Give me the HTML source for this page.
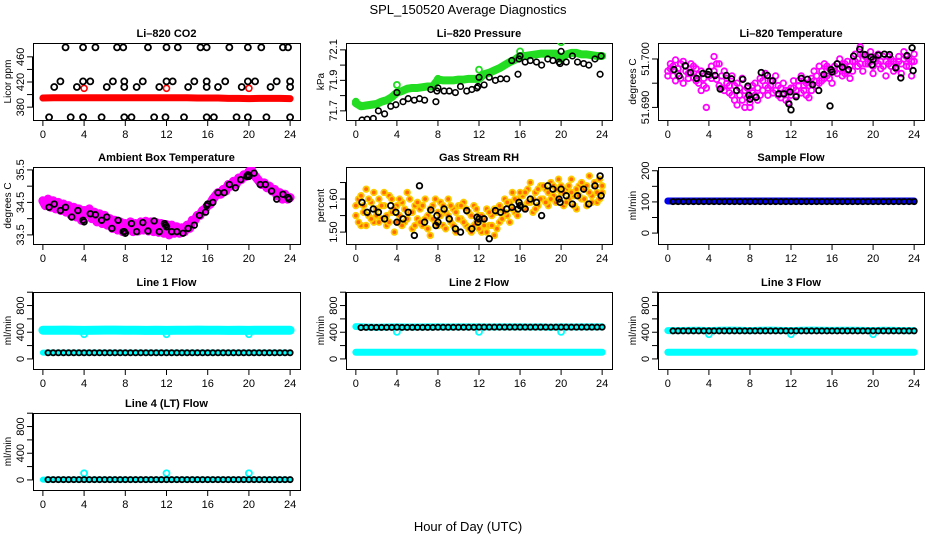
<!DOCTYPE html>
<html><head><meta charset="utf-8">
<style>
html,body{margin:0;padding:0;background:#fff;}
svg{display:block;font-family:"Liberation Sans",Arial,sans-serif;}
</style></head>
<body>
<svg id="chart" width="936" height="540" viewBox="0 0 936 540" xmlns="http://www.w3.org/2000/svg">
<text x="468" y="14" text-anchor="middle" font-size="13">SPL_150520  Average Diagnostics</text>
<text x="468" y="531" text-anchor="middle" font-size="13">Hour of Day (UTC)</text>
</svg>
<script>
// ---------- data ----------
const blackHours=[0.6,1.1,1.7,2.2,2.8,3.4,3.9,4.0,4.6,5.1,5.7,6.2,6.7,7.3,7.8,7.9,8.0,8.6,9.1,9.7,10.2,10.8,11.3,11.8,11.9,12.0,12.5,13.0,13.6,14.1,14.7,15.2,15.8,15.9,16.0,16.5,17.0,17.6,18.1,18.7,19.2,19.8,19.9,20.0,20.5,21.1,21.6,22.2,22.7,23.3,23.8,23.9];
const hourly=[0,1,2,3,4,5,6,7,8,9,10,11,12,13,14,15,16,17,18,19,20,21,22,23,24];
const halfHours=[0,0.5,1,1.5,2,2.5,3,3.5,4,4.5,5,5.5,6,6.5,7,7.5,8,8.5,9,9.5,10,10.5,11,11.5,12,12.5,13,13.5,14,14.5,15,15.5,16,16.5,17,17.5,18,18.5,19,19.5,20,20.5,21,21.5,22,22.5,23,23.5,24];
const quarterHours=[0,0.25,0.5,0.75,1,1.25,1.5,1.75,2,2.25,2.5,2.75,3,3.25,3.5,3.75,4,4.25,4.5,4.75,5,5.25,5.5,5.75,6,6.25,6.5,6.75,7,7.25,7.5,7.75,8,8.25,8.5,8.75,9,9.25,9.5,9.75,10,10.25,10.5,10.75,11,11.25,11.5,11.75,12,12.25,12.5,12.75,13,13.25,13.5,13.75,14,14.25,14.5,14.75,15,15.25,15.5,15.75,16,16.25,16.5,16.75,17,17.25,17.5,17.75,18,18.25,18.5,18.75,19,19.25,19.5,19.75,20,20.25,20.5,20.75,21,21.25,21.5,21.75,22,22.25,22.5,22.75,23,23.25,23.5,23.75,24];
const flowHours=[0.5,1,1.5,2,2.5,3,3.5,4,4.5,5,5.5,6,6.5,7,7.5,8,8.5,9,9.5,10,10.5,11,11.5,12,12.5,13,13.5,14,14.5,15,15.5,16,16.5,17,17.5,18,18.5,19,19.5,20,20.5,21,21.5,22,22.5,23,23.5,24];

// CO2
const co2Red=[394.5,395,395,395,395,395,395,395,395,395,395,395,395,395,395,394.5,394.5,394.5,394,394,393.5,394,394,394,393.5];
const co2RedOutHours=[4,12,20];
const co2RedOutVals=[410,410,410];
const co2BlackHours=[2.2,3.9,5.1,7.2,7.8,10.2,12,13.1,15.3,15.9,18.1,19.9,21.2,23.3,23.8,0.6,2.7,3.9,5.7,7.9,8.6,10.8,11.9,13.7,15.9,16.6,18.8,19.9,21.7,24,1.1,3.3,6.2,7.9,9.1,11.3,14.1,15.9,17.0,19.3,22.1,24,1.7,3.9,4.6,6.8,7.9,9.7,12,12.6,14.7,15.9,17.7,19.9,20.6,22.7,24];
const co2BlackVals=[475,475,475,475,475,475,475,475,475,475,475,475,475,475,475,364,364,364,364,364,364,364,364,364,364,364,364,364,364,364,412,412,412,412,412,412,412,412,412,412,412,412,421,421,421,421,421,421,421,421,421,421,421,421,421,421,421];

// Pressure
const presGreen=[71.75,71.73,71.735,71.74,71.745,71.76,71.77,71.79,71.82,71.83,71.845,71.85,71.85,71.855,71.86,71.86,71.905,71.90,71.90,71.90,71.905,71.905,71.91,71.91,71.91,71.94,71.95,71.965,71.98,72.00,72.02,72.035,72.06,72.06,72.065,72.07,72.075,72.075,72.075,72.075,72.04,72.07,72.08,72.08,72.07,72.07,72.065,72.06,72.06];
const presOutHours=[0,4,8,12,16,20];
const presOutVals=[71.76,71.87,71.91,71.97,72.09,72.15];
const presBlack=[71.64,71.645,71.65,71.70,71.68,71.73,71.74,71.82,71.76,71.78,71.77,71.78,71.77,71.84,71.76,71.83,71.85,71.83,71.83,71.82,71.86,71.83,71.84,71.85,71.86,71.92,71.87,71.92,71.90,71.91,71.91,72.03,71.94,72.04,72.06,72.02,72.03,72.02,72.00,72.04,72.03,72.02,72.01,72.09,72.02,72.06,72.02,72.01,72.00,72.04,71.94,72.06];

// Li-820 temperature
const ltMagenta=[51.6975,51.6990,51.6965,51.6998,51.6980,51.6960,51.6995,51.6985,51.6970,
51.6990,51.6962,51.6980,51.6950,51.6975,51.6945,51.6900,51.6965,
51.6985,51.7005,51.6958,51.6990,51.6940,51.6975,51.6950,51.6930,
51.6965,51.6915,51.6950,51.6925,51.6960,51.6900,51.6940,51.6910,
51.6945,51.6925,51.6915,51.6960,51.6935,51.6970,51.6940,51.6955,
51.6930,51.6965,51.6945,51.6920,51.6950,51.6935,51.6910,51.6940,
51.6955,51.6925,51.6945,51.6965,51.6935,51.6950,51.6920,51.6960,
51.6975,51.6945,51.6985,51.6955,51.6990,51.6965,51.6980,51.6950,
51.6985,51.6970,51.7000,51.6965,51.6990,51.6975,51.6960,51.6995,
51.7010,51.6985,51.7025,51.6975,51.7005,51.6990,51.7015,51.6970,
51.6995,51.7010,51.6980,51.7005,51.6965,51.6990,51.7000,51.6975,
51.6990,51.7005,51.6970,51.7015,51.6985,51.7000,51.6965,51.6995];
const ltMagentaB=[51.6965,51.6980,51.6985,51.6955,51.6970,51.6990,51.6950,51.6975,51.6960,
51.6970,51.6985,51.6955,51.6968,51.6935,51.6960,51.6940,51.6975,
51.6960,51.6975,51.6990,51.6945,51.6965,51.6935,51.6960,51.6945,
51.6925,51.6945,51.6905,51.6940,51.6915,51.6935,51.6920,51.6900,
51.6930,51.6950,51.6940,51.6925,51.6955,51.6945,51.6925,51.6945,
51.6955,51.6935,51.6925,51.6940,51.6930,51.6915,51.6935,51.6925,
51.6940,51.6935,51.6955,51.6930,51.6945,51.6925,51.6945,51.6935,
51.6955,51.6965,51.6950,51.6975,51.6960,51.6985,51.6960,51.6975,
51.6975,51.6990,51.6980,51.6985,51.6970,51.6995,51.6985,51.6975,
51.6995,51.7000,51.6990,51.7010,51.6990,51.6995,51.7000,51.6985,
51.7005,51.6990,51.6995,51.6985,51.6995,51.7005,51.6985,51.6995,
51.6980,51.6995,51.6990,51.7000,51.7005,51.6985,51.6995,51.7010];
const ltBlack=[51.6978,51.6965,51.6986,51.6972,51.6960,51.6970,51.6968,51.6974,51.6966,51.6938,51.6966,51.6959,51.6935,51.6958,51.6944,51.6925,51.6917,51.6921,51.6972,51.6966,51.6955,51.6928,51.6928,51.6907,51.6932,51.6895,51.6922,51.6960,51.6958,51.6947,51.6935,51.6968,51.6903,51.6978,51.6973,51.6990,51.6983,51.6978,51.7006,51.7020,51.7009,51.7004,51.6988,51.6999,51.7008,51.7010,51.7009,51.6982,51.6961,51.7007,51.7023,51.6976];

// Ambient box temperature
const ambMagenta=[34.55,34.40,34.60,34.35,34.55,34.30,34.50,34.25,34.45,
34.20,34.40,34.10,34.35,34.05,34.30,33.95,34.25,
34.15,34.30,34.00,34.20,33.90,34.15,33.85,34.10,
33.80,34.00,33.70,33.95,33.65,33.90,33.60,33.85,
33.65,33.90,33.60,33.85,33.62,33.90,33.65,33.92,
33.62,33.90,33.60,33.88,33.58,33.85,33.55,33.82,
33.50,33.80,33.55,33.75,33.55,33.72,33.60,33.80,
33.70,33.95,33.95,34.10,34.10,34.25,34.30,34.40,
34.45,34.60,34.70,34.80,34.75,34.90,34.85,35.05,
35.00,35.15,35.05,35.25,35.20,35.35,35.30,35.45,
35.50,35.35,35.25,35.15,35.05,35.10,34.95,35.00,
34.85,34.90,34.70,34.80,34.60,34.75,34.60,34.65];
const ambBlack=[34.35,34.45,34.25,34.35,34.05,34.25,33.95,33.90,34.15,34.12,33.95,34.05,33.7,33.95,33.6,33.6,33.55,33.85,33.6,33.88,33.62,33.93,33.6,33.85,33.8,33.75,33.6,33.6,33.55,33.7,33.8,34.1,34.2,34.4,34.45,34.5,34.8,34.8,35.05,34.95,35.2,35.3,35.35,35.3,35.4,35.05,35.05,34.85,34.6,34.75,34.65,34.6];

// Gas stream RH
const rhYellow=[1.55,1.60,1.52,1.58,1.63,1.55,1.59,1.53,1.57,
1.60,1.54,1.58,1.52,1.61,1.56,1.50,1.58,
1.55,1.59,1.53,1.62,1.56,1.51,1.58,1.54,
1.57,1.52,1.60,1.55,1.49,1.58,1.53,1.56,
1.59,1.52,1.56,1.60,1.53,1.57,1.50,1.58,
1.54,1.59,1.52,1.56,1.50,1.58,1.53,1.55,
1.50,1.54,1.57,1.52,1.55,1.49,1.56,1.53,
1.57,1.60,1.55,1.59,1.62,1.56,1.60,1.58,
1.61,1.57,1.63,1.59,1.56,1.62,1.58,1.64,
1.60,1.63,1.58,1.65,1.61,1.59,1.66,1.62,
1.58,1.63,1.60,1.66,1.61,1.57,1.64,1.60,
1.63,1.58,1.67,1.61,1.64,1.59,1.66,1.62];
const rhYellowB=[1.58,1.53,1.61,1.56,1.52,1.60,1.54,1.62,1.55,
1.53,1.58,1.62,1.55,1.53,1.60,1.57,1.53,
1.60,1.52,1.57,1.54,1.60,1.56,1.52,1.59,
1.53,1.58,1.54,1.51,1.57,1.54,1.60,1.52,
1.55,1.58,1.51,1.55,1.58,1.52,1.56,1.54,
1.58,1.53,1.57,1.51,1.55,1.52,1.57,1.51,
1.55,1.52,1.50,1.56,1.52,1.57,1.51,1.58,
1.54,1.56,1.59,1.53,1.57,1.60,1.55,1.62,
1.58,1.62,1.59,1.65,1.60,1.57,1.63,1.60,
1.64,1.59,1.62,1.60,1.64,1.63,1.60,1.64,
1.62,1.59,1.64,1.62,1.58,1.63,1.61,1.65,
1.60,1.64,1.62,1.59,1.65,1.62,1.60,1.64];
const rhBlack=[1.59,1.56,1.57,1.56,1.54,1.58,1.56,1.53,1.54,1.56,1.49,1.64,1.53,1.567,1.52,1.55,1.53,1.57,1.54,1.51,1.50,1.565,1.51,1.545,1.53,1.54,1.54,1.48,1.565,1.56,1.57,1.575,1.57,1.59,1.58,1.57,1.60,1.59,1.55,1.64,1.63,1.60,1.59,1.63,1.61,1.585,1.61,1.63,1.585,1.64,1.67,1.61];

// Sample flow
const sampleBlue=[103,103,103,103,103,103,103,103,103,103,103,103,103,103,103,103,103,103,103,103,103,103,103,103,103];
const sampleBlack=[101,101,101,101,101,101,101,101,101,101,101,101,101,101,101,101,101,101,101,101,101,101,101,101,101,101,101,101,101,101,101,101,101,101,101,101,101,101,101,101,101,101,101,101,101,101,101,101];

// Line flows
const line1Cyan=[430,430,432,430,428,430,432,432,430,430,428,430,428,430,430,432,430,430,428,430,428,430,430,430,430];
const line1CyanLow=[95,95,95,95,95,95,95,95,95,95,95,95,95,95,95,95,95,95,95,95,95,95,95,95,95];
const line1Black=[92,92,92,92,92,92,92,92,92,92,92,92,92,92,92,92,92,92,92,92,92,92,92,92,92,92,92,92,92,92,92,92,92,92,92,92,92,92,92,92,92,92,92,92,92,92,92,92];
const line1OutHours=[4,12,20];
const line1OutVals=[370,370,370];

const line2Cyan=[485,478,475,478,480,478,478,480,480,478,480,480,480,478,480,480,480,478,480,475,480,478,480,480,480];
const line2CyanLow=[100,100,100,100,100,100,100,100,100,100,100,100,100,100,100,100,100,100,100,100,100,100,100,100,100];
const line2Black=[470,472,472,472,472,472,472,475,472,472,472,472,472,472,472,474,474,474,474,474,474,474,474,476,476,476,476,476,476,476,476,476,476,476,476,476,476,476,476,476,476,476,476,476,476,476,476,476];
const line2OutHours=[4,12,20];
const line2OutVals=[405,405,405];

const line3Cyan=[425,425,428,430,425,430,432,430,425,430,432,428,425,430,432,430,428,430,430,428,425,430,428,425,425];
const line3CyanLow=[100,100,100,100,100,100,100,100,100,100,100,100,100,100,100,100,100,100,100,100,100,100,100,100,100];
const line3Black=[420,420,420,420,420,420,420,420,420,420,420,420,420,420,420,420,420,420,420,420,420,420,420,420,420,420,420,420,420,420,420,420,420,420,420,420,420,420,420,420,420,420,420,420,420,420,420,420];
const line3OutHours=[4,12,20];
const line3OutVals=[370,370,370];

const line4Cyan=[5,5,5,5,5,5,5,5,5,5,5,5,5,5,5,5,5,5,5,5,5,5,5,5,5];
const line4Black=[5,5,5,5,5,5,5,5,5,5,5,5,5,5,5,5,5,5,5,5,5,5,5,5,5,5,5,5,5,5,5,5,5,5,5,5,5,5,5,5,5,5,5,5,5,5,5,5];
const line4OutHours=[4,12,20];
const line4OutVals=[100,100,100];

const xTickVals=[0,4,8,12,16,20,24];
const flowTicks=[0,200,400,600,800,1000];
const flowLabels=["0","","400","","800",""];

// ---------- drawing ----------
const NS="http://www.w3.org/2000/svg";
const svg=document.getElementById('chart');
const XMIN=-0.96, XMAX=24.96;
function el(tag,attrs,parent){const e=document.createElementNS(NS,tag);for(const k in attrs)e.setAttribute(k,attrs[k]);parent.appendChild(e);return e;}

function panel(name,title,ylab,bx,by,bw,bh,ymin,ymax,yticks,ylabels){
  const g=el('g',{},svg);
  
  
  const sx=v=>bx+(v-XMIN)/(XMAX-XMIN)*bw;
  const sy=v=>by+bh-(v-ymin)/(ymax-ymin)*bh;
  const t=el('text',{x:bx+bw/2,y:by-6,'text-anchor':'middle','font-size':'11','font-weight':'bold'},g);
  t.textContent=title;
  
  
  const yl=el('text',{transform:`translate(${bx-22},${by+bh/2}) rotate(-90)`,'text-anchor':'middle','font-size':'10'},g);
  yl.textContent=ylab;
  
  
  const xa=el('g',{},g);
  
  
  el('line',{x1:sx(0),x2:sx(24),y1:by+bh+0.5,y2:by+bh+0.5,stroke:'#000'},xa);
  xTickVals.forEach(v=>{
    el('line',{x1:sx(v),x2:sx(v),y1:by+bh,y2:by+bh+6,stroke:'#000'},xa);
    const tl=el('text',{x:sx(v),y:by+bh+18,'text-anchor':'middle','font-size':'11'},xa);
    tl.textContent=String(v);
    
    
  });
  const ya=el('g',{},g);
  
  
  yticks.forEach((v,i)=>{
    el('line',{x1:bx-6,x2:bx,y1:sy(v),y2:sy(v),stroke:'#000'},ya);
    if(ylabels[i]){
      const tl=el('text',{transform:`translate(${bx-9},${sy(v)}) rotate(-90)`,'text-anchor':'middle','font-size':'11'},ya);
      tl.textContent=ylabels[i];
      
      
    }
  });
  el('line',{x1:bx-0.5,x2:bx-0.5,y1:sy(yticks[0]),y2:sy(yticks[yticks.length-1]),stroke:'#000'},ya);
  const box=el('rect',{x:bx+0.5,y:by+0.5,width:bw,height:bh,fill:'none',stroke:'#000'},g);
  
  
  const clip=el('clipPath',{id:'c-'+name},g);
  el('rect',{x:bx,y:by,width:bw+1,height:bh+1},clip);
  const marks=el('g',{'clip-path':`url(#c-${name})`},g);
  return {sx,sy,marks};
}
function points(p,name,xs,ys,r,stroke,sw,fill){
  const g=el('g',{},p.marks);
  
  
  xs.forEach((x,i)=>{
    const c=el('circle',{cx:p.sx(x),cy:p.sy(ys[i]),r:r,fill:fill||'none',stroke:stroke,'stroke-width':sw},g);
    
    
  });
}
function band(p,name,xs,ys,color,w){
  const pl=el('polyline',{points:xs.map((x,i)=>p.sx(x)+','+p.sy(ys[i])).join(' '),fill:'none',stroke:color,'stroke-width':w,'stroke-linejoin':'round','stroke-linecap':'round'},p.marks);
  
  
}

const COLX=[33,346,658], COLW=[267,266,266];
const ROWY=[43,167,292,413], ROWH=77;

// CO2
let p=panel('co2','Li\u2013820 CO2','Licor ppm',COLX[0],ROWY[0],COLW[0],ROWH,359.6,482,[380,400,420,440,460],['380','','420','','460']);
band(p,'co2-red-band',hourly,co2Red,'#ff0000',7);
points(p,'co2-red-outliers',co2RedOutHours,co2RedOutVals,3,'#ff0000',1.6);
points(p,'co2-black-points',co2BlackHours,co2BlackVals,3,'#000',1.8);

// Pressure
p=panel('pressure','Li\u2013820 Pressure','kPa',COLX[1],ROWY[0],COLW[1],ROWH,71.64,72.145,[71.7,71.8,71.9,72.0,72.1],['71.7','','71.9','','72.1']);
band(p,'pressure-green-band',halfHours,presGreen,'#22dd22',8);
points(p,'pressure-green-outliers',presOutHours,presOutVals,3,'#22dd22',1.8);
points(p,'pressure-black-points',blackHours,presBlack,2.8,'#000',1.6);

// Li temp
p=panel('li-temp','Li\u2013820 Temperature','degrees C',COLX[2],ROWY[0],COLW[2],ROWH,51.6874,51.7033,[51.690,51.695,51.700],['51.690','','51.700']);
points(p,'li-temp-magenta-points',quarterHours,ltMagenta,2.8,'#ff00ff',1.8);
points(p,'li-temp-magenta-points-b',quarterHours,ltMagentaB,2.8,'#ff00ff',1.8);
points(p,'li-temp-black-points',blackHours,ltBlack,2.8,'#000',1.8);

// Ambient
p=panel('ambient','Ambient Box Temperature','degrees C',COLX[0],ROWY[1],COLW[0],ROWH,33.22,35.59,[33.5,34.0,34.5,35.0,35.5],['33.5','','34.5','','35.5']);
band(p,'ambient-magenta-band',quarterHours,ambMagenta,'#ff00ff',9);
points(p,'ambient-black-points',blackHours,ambBlack,2.8,'#000',1.8);

// RH
p=panel('rh','Gas Stream RH','percent',COLX[1],ROWY[1],COLW[1],ROWH,1.464,1.697,[1.50,1.55,1.60,1.65],['1.50','','1.60','']);
points(p,'rh-yellow-points',quarterHours,rhYellow,2.8,'#ffcc00',1.8,'#ff6a00');
points(p,'rh-yellow-points-b',quarterHours,rhYellowB,2.8,'#ffcc00',1.8,'#ff6a00');
points(p,'rh-black-points',blackHours,rhBlack,2.8,'#000',1.8);

// Sample flow
p=panel('sample-flow','Sample Flow','ml/min',COLX[2],ROWY[1],COLW[2],ROWH,-35,212,[0,50,100,150,200],['0','','100','','200']);
band(p,'sample-blue-band',hourly,sampleBlue,'#0000ee',7);
points(p,'sample-black-points',flowHours,sampleBlack,2.6,'#000',1.8);

// Line flows
p=panel('line1','Line 1 Flow','ml/min',COLX[0],ROWY[2],COLW[0],ROWH,-151,1003,flowTicks,flowLabels);
band(p,'line1-cyan-band',hourly,line1Cyan,'#00ffff',9);
band(p,'line1-cyan-low-band',hourly,line1CyanLow,'#00ffff',6);
points(p,'line1-cyan-outliers',line1OutHours,line1OutVals,3,'#00ffff',1.8);
points(p,'line1-black-points',flowHours,line1Black,2.6,'#000',1.8);

p=panel('line2','Line 2 Flow','ml/min',COLX[1],ROWY[2],COLW[1],ROWH,-151,1003,flowTicks,flowLabels);
band(p,'line2-cyan-band',hourly,line2Cyan,'#00ffff',7);
band(p,'line2-cyan-low-band',hourly,line2CyanLow,'#00ffff',7);
points(p,'line2-cyan-outliers',line2OutHours,line2OutVals,3,'#00ffff',1.8);
points(p,'line2-black-points',flowHours,line2Black,2.6,'#000',1.8);

p=panel('line3','Line 3 Flow','ml/min',COLX[2],ROWY[2],COLW[2],ROWH,-151,1003,flowTicks,flowLabels);
band(p,'line3-cyan-band',hourly,line3Cyan,'#00ffff',7);
band(p,'line3-cyan-low-band',hourly,line3CyanLow,'#00ffff',7);
points(p,'line3-cyan-outliers',line3OutHours,line3OutVals,3,'#00ffff',1.8);
points(p,'line3-black-points',flowHours,line3Black,2.6,'#000',1.8);

p=panel('line4','Line 4 (LT) Flow','ml/min',COLX[0],ROWY[3],COLW[0],ROWH,-151,1003,flowTicks,flowLabels);
band(p,'line4-cyan-band',hourly,line4Cyan,'#00ffff',6);
points(p,'line4-cyan-outliers',line4OutHours,line4OutVals,3,'#00ffff',1.8);
points(p,'line4-black-points',flowHours,line4Black,2.6,'#000',1.8);
</script>
</body></html>
